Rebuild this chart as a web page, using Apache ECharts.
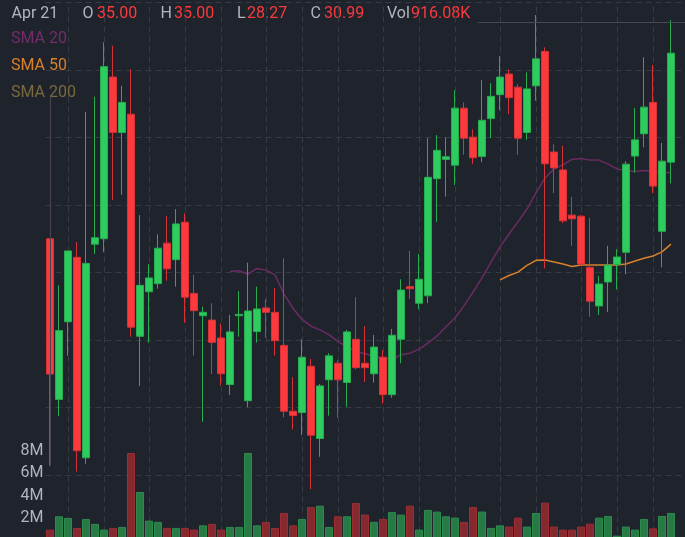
<!DOCTYPE html>
<html>
<head>
<meta charset="utf-8">
<script src="https://cdn.jsdelivr.net/npm/echarts@6/dist/echarts.min.js"></script>
<style>
  html, body { margin: 0; padding: 0; background: #1f232c; }
  #chart { width: 685px; height: 537px; }
</style>
</head>
<body>
<div id="chart"></div>
<script>
// daily OHLC (first bar = Apr 21)
var opens = [35.00, 30.24, 32.54, 34.45, 28.51, 34.84, 35.00, 39.79, 38.15, 38.69,
  32.11, 33.43, 33.67, 34.87, 34.38, 35.49, 33.38, 32.72, 32.59, 32.06,
  30.68, 32.72, 30.20, 32.25, 32.95, 32.82, 31.84, 29.89, 29.85, 31.22,
  29.08, 30.82, 31.31, 30.74, 32.02, 31.31, 31.00, 31.49, 30.38, 32.02,
  33.58, 33.09, 33.31, 36.78, 37.35, 37.18, 38.87, 38.01, 37.44, 38.56,
  39.27, 39.88, 39.49, 38.15, 39.53, 40.55, 37.57, 37.04, 35.70, 35.67,
  34.15, 33.01, 33.72, 34.24, 34.60, 37.45, 38.11, 39.04, 35.22, 37.27];
var highs = [35.00, 33.62, 34.64, 34.90, 38.76, 39.21, 40.82, 40.72, 39.53, 40.02,
  35.70, 34.25, 35.13, 35.67, 35.88, 35.75, 33.93, 32.99, 33.09, 32.49,
  32.74, 33.45, 34.29, 33.58, 33.21, 33.54, 34.42, 30.90, 32.02, 31.44,
  30.70, 31.61, 31.40, 32.30, 33.27, 32.41, 32.15, 31.70, 32.33, 33.80,
  34.64, 34.55, 37.98, 38.07, 38.01, 39.40, 39.04, 38.24, 39.70, 39.61,
  40.41, 40.02, 39.58, 39.93, 41.63, 40.67, 37.80, 37.75, 36.24, 35.70,
  35.62, 33.90, 34.79, 34.69, 37.30, 38.87, 40.38, 40.15, 37.84, 41.48];
var lows = [28.27, 29.75, 31.53, 28.10, 28.33, 34.55, 34.60, 36.15, 36.30, 32.10,
  30.64, 31.92, 33.52, 33.76, 33.58, 32.51, 31.54, 29.58, 30.99, 30.65,
  30.37, 32.10, 30.01, 31.92, 32.07, 31.54, 29.71, 29.35, 29.18, 27.58,
  28.54, 29.76, 29.70, 30.02, 31.13, 30.76, 30.74, 30.11, 30.29, 31.31,
  33.22, 32.91, 33.09, 35.49, 36.25, 36.59, 37.49, 37.22, 37.27, 37.98,
  38.81, 38.69, 37.49, 37.93, 39.09, 34.12, 36.35, 35.46, 34.79, 34.22,
  32.69, 32.74, 32.83, 33.50, 33.95, 36.96, 37.71, 36.35, 34.15, 36.64];
var closes = [30.99, 32.28, 34.64, 28.72, 34.27, 35.03, 40.10, 38.15, 39.04, 32.38,
  33.62, 33.84, 34.72, 34.11, 35.44, 33.27, 32.87, 32.82, 31.93, 31.00,
  32.24, 32.76, 32.86, 32.92, 32.82, 31.98, 29.89, 29.76, 31.49, 29.18,
  30.64, 31.53, 30.82, 32.24, 31.18, 31.18, 31.79, 30.38, 32.14, 33.48,
  33.52, 33.80, 36.82, 37.62, 37.43, 38.87, 37.98, 37.40, 38.51, 39.22,
  39.79, 39.18, 37.98, 39.44, 40.33, 37.22, 37.10, 35.53, 35.59, 34.25,
  33.15, 33.66, 34.22, 34.46, 37.21, 37.93, 38.90, 36.56, 37.30, 40.50];
// volume in millions
var volumes = [0.91608, 2.12, 1.97, 1.08, 1.88, 1.44, 0.93, 1.08, 1.17, 7.78,
  4.29, 1.73, 1.62, 1.08, 1.08, 1.08, 0.93, 1.31, 1.44, 0.93,
  1.17, 1.17, 7.78, 1.31, 1.62, 1.08, 2.42, 1.31, 1.88, 2.95,
  3.07, 1.17, 2.12, 2.12, 3.31, 2.27, 1.62, 1.88, 2.51, 2.27,
  3.07, 0.93, 2.69, 2.54, 2.12, 2.00, 1.62, 2.95, 2.54, 1.08,
  1.31, 1.20, 2.00, 1.20, 2.42, 3.34, 1.20, 0.93, 0.93, 1.20,
  1.46, 2.00, 2.15, 0.39, 1.20, 0.93, 1.88, 1.04, 2.15, 2.42];
var sma20 = Array(20).fill(null).concat([
  34.03, 34.05, 33.95, 34.12, 34.07, 33.93, 33.36, 32.94, 32.61, 32.41,
  32.30, 32.16, 31.95, 31.80, 31.66, 31.59, 31.52, 31.46, 31.43, 31.56,
  31.61, 31.73, 31.91, 32.12, 32.39, 32.65, 33.01, 33.42, 33.84, 34.31,
  34.76, 35.14, 35.50, 35.88, 36.36, 36.80, 37.07, 37.19, 37.35, 37.38,
  37.33, 37.33, 37.21, 37.07, 37.02, 36.99, 37.02, 36.99, 36.94, 36.97]);
var sma50 = Array(50).fill(null).concat([
  33.78, 33.91, 34.01, 34.21, 34.36, 34.37, 34.31, 34.25, 34.18, 34.22,
  34.22, 34.22, 34.22, 34.22, 34.25, 34.34, 34.42, 34.49, 34.61, 34.84]);
var sma200 = [];
// bars where the time scale puts a vertical grid line
var timeTicks = [2, 6, 11, 15, 19, 24, 28, 32, 37, 41, 45, 50, 54, 59, 63, 67];
// crosshair: hovered bar 0, price line
var crossTop = 39.23;
var priceLine = 41.42;

// trading days from Apr 21, plus two empty slots on the right
var months = ["Jan", "Feb", "Mar", "Apr", "May", "Jun", "Jul", "Aug", "Sep", "Oct", "Nov", "Dec"];
var dates = [];
var d = new Date(2023, 3, 21);
while (dates.length < 72) {
  if (d.getDay() !== 0 && d.getDay() !== 6) dates.push(months[d.getMonth()] + " " + d.getDate());
  d.setDate(d.getDate() + 1);
}

var up = "#2ecc5f", upEdge = "#27ad50", down = "#fc3a3d", downEdge = "#d83236";
var upVol = "#277a44", downVol = "#86292f";
var grey = "#b2b5be", gridColor = "#363a45";
var font = "Roboto";

var ohlc = opens.map(function (o, i) { return [o, closes[i], lows[i], highs[i]]; });
var vol = volumes.map(function (v, i) {
  var isUp = closes[i] >= opens[i];
  return { value: v, itemStyle: { color: isUp ? upVol : downVol, borderColor: isUp ? "#2d8a4e" : "#9a2e35" } };
});

var red0 = closes[0] < opens[0] ? down : up;
var header = [
  { t: dates[0], x: 11.5, c: grey },
  { t: "O", x: 82.5, c: grey }, { t: opens[0].toFixed(2), x: 97, c: red0 },
  { t: "H", x: 160.5, c: grey }, { t: highs[0].toFixed(2), x: 174, c: red0 },
  { t: "L", x: 237, c: grey }, { t: lows[0].toFixed(2), x: 247, c: red0 },
  { t: "C", x: 310.5, c: grey }, { t: closes[0].toFixed(2), x: 324, c: red0 },
  { t: "Vol", x: 387, c: grey }, { t: (volumes[0] * 1000).toFixed(2) + "K", x: 411, c: red0 }
];

var chart = echarts.init(document.getElementById("chart"));
chart.setOption({
  animation: false,
  backgroundColor: "#1f232c",
  graphic: header.map(function (h) {
    return {
      type: "text", left: h.x, top: 3.5, silent: true,
      style: { text: h.t, fill: h.c, fontSize: 16, fontFamily: font, lineHeight: 20 }
    };
  }),
  legend: {
    orient: "vertical", left: 6, top: 29, padding: 0,
    itemWidth: 0, itemHeight: 20, itemGap: 7, icon: "none", selectedMode: false,
    textStyle: { fontSize: 16, fontFamily: font, lineHeight: 20 },
    data: [
      { name: "SMA 20", textStyle: { color: "#742d6b" } },
      { name: "SMA 50", textStyle: { color: "#d9802d" } },
      { name: "SMA 200", textStyle: { color: "#7a6a3d" } }
    ]
  },
  grid: [
    { left: 45.5, width: 648, top: 2.5, height: 540, outerBoundsMode: "none", containLabel: false },
    { left: 45.5, width: 648, top: 451, height: 89.5, outerBoundsMode: "none", containLabel: false }
  ],
  xAxis: [
    { type: "category", gridIndex: 0, data: dates, boundaryGap: true,
      axisLine: { show: false }, axisTick: { show: false }, axisLabel: { show: false }, splitLine: { show: false } },
    { type: "category", gridIndex: 1, data: dates, boundaryGap: true,
      axisLine: { show: false }, axisTick: { show: false }, axisLabel: { show: false }, splitLine: { show: false } }
  ],
  yAxis: [
    { type: "value", gridIndex: 0, position: "right", min: 26, max: 42, interval: 2,
      axisLine: { show: false }, axisTick: { show: false }, axisLabel: { show: false },
      splitLine: { show: true, lineStyle: { color: gridColor, type: [6, 4], width: 1 } } },
    { type: "value", gridIndex: 1, position: "left", min: 0, max: 8, interval: 2,
      axisLine: { show: false }, axisTick: { show: false }, splitLine: { show: false },
      axisLabel: { color: grey, fontSize: 16, fontFamily: font, margin: 2, padding: [4, 0, 0, 0],
        formatter: function (v) { return v ? v + "M" : ""; } } }
  ],
  series: [
    {
      name: "timeGrid", type: "line", data: [], silent: true,
      markLine: {
        z: 1, silent: true, symbol: "none", label: { show: false },
        lineStyle: { color: gridColor, type: [6, 4], width: 1 },
        emphasis: { disabled: true },
        data: timeTicks.map(function (i) { return { xAxis: i }; })
      }
    },
    {
      name: "SMA 20", type: "line", data: sma20, showSymbol: false, z: 2,
      lineStyle: { color: "#6b2b63", width: 1.5 }, itemStyle: { color: "#742d6b" }
    },
    {
      name: "SMA 50", type: "line", data: sma50, showSymbol: false, z: 2,
      lineStyle: { color: "#d9802d", width: 1.5 }, itemStyle: { color: "#d9802d" }
    },
    {
      name: "SMA 200", type: "line", data: sma200, showSymbol: false, z: 2,
      lineStyle: { color: "#7a6a3d", width: 1.5 }, itemStyle: { color: "#7a6a3d" }
    },
    {
      name: "Price", type: "candlestick", data: ohlc, z: 3, barWidth: 7,
      itemStyle: { color: up, color0: down, borderColor: upEdge, borderColor0: downEdge, borderWidth: 1 },
      markLine: {
        silent: true, symbol: "none", label: { show: false },
        emphasis: { disabled: true },
        lineStyle: { color: "#4a4452", type: "solid", width: 1 },
        data: [
          [{ coord: [0, crossTop] }, { coord: [0, lows[0]] }],
          [{ x: 478, yAxis: priceLine, lineStyle: { color: "#464955" } },
           { x: 685, yAxis: priceLine }]
        ]
      }
    },
    {
      name: "Volume", type: "bar", xAxisIndex: 1, yAxisIndex: 1, data: vol, barWidth: 7
    }
  ]
});
</script>
</body>
</html>
